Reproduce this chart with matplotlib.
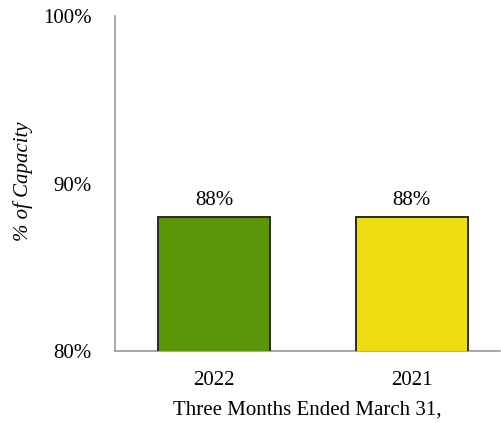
import matplotlib.pyplot as plt

plt.rcParams['font.family'] = ['Liberation Serif', 'DejaVu Serif']

years = ['2022', '2021']
capacity = [88, 88]
colors = ['#5a9608', '#eedd12']

fig = plt.figure(figsize=(5.01, 4.23), dpi=100)
ax = fig.add_axes([0.2295, 0.170, 0.768, 0.792])

x = range(len(years))
bars = ax.bar(x, capacity, width=0.566, color=colors, edgecolor='#2b2b1f', linewidth=1.4, zorder=3)

for xi, v in zip(x, capacity):
    ax.text(xi, v + 0.45, f'{v}%', ha='center', va='bottom', fontsize=15)

ax.set_ylim(80, 100)
ax.set_xlim(-0.5, 1.444)
ax.set_yticks([80, 90, 100])
ax.set_yticklabels(['80%', '90%', '100%'])
ax.set_xticks(list(x))
ax.set_xticklabels(years)
ax.tick_params(axis='both', length=0, labelsize=15)
ax.tick_params(axis='y', pad=17)
ax.tick_params(axis='x', pad=14)

for side in ['top', 'right']:
    ax.spines[side].set_visible(False)
for side in ['left', 'bottom']:
    ax.spines[side].set_color('#9a9a9a')
    ax.spines[side].set_linewidth(1.2)

ax.set_ylabel('% of Capacity', fontsize=15, style='italic')
ax.yaxis.set_label_coords(-0.214, 0.507)
ax.set_xlabel('Three Months Ended March 31,', fontsize=15, labelpad=8)

fig.savefig('out.png', dpi=100)
